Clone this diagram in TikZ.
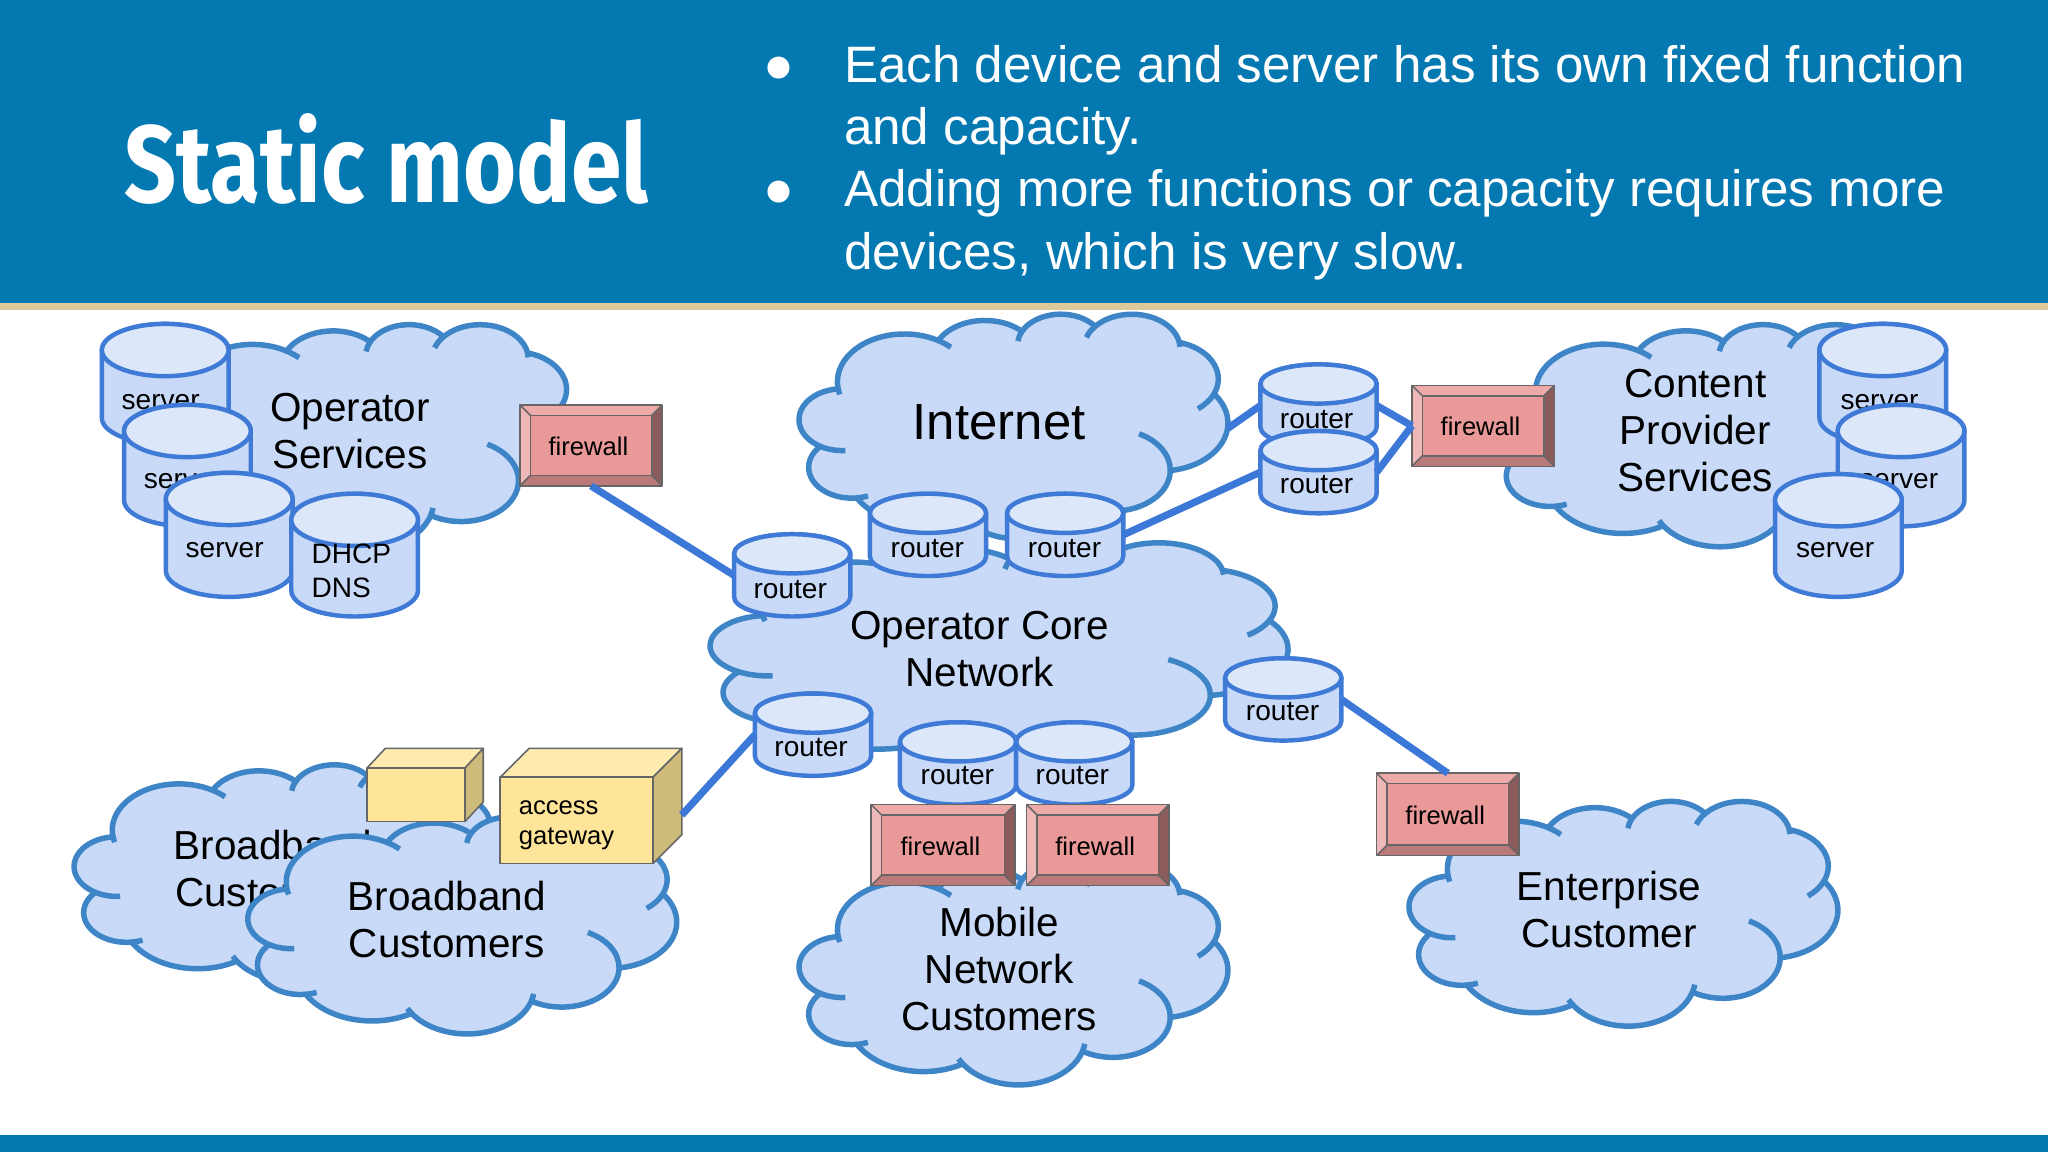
\documentclass[tikz,border=0pt]{standalone}
\usepackage{fontspec}
\setmainfont{Liberation Sans}
\newfontfamily\titlefont[FakeStretch=0.83]{Fira Sans Bold}
\definecolor{hdr}{HTML}{0478B0}
\definecolor{tanbar}{HTML}{DEC99A}
\definecolor{cloudfill}{HTML}{C9DAF8}
\definecolor{cloudline}{HTML}{3D85C6}
\definecolor{cylline}{HTML}{3F7BD6}
\definecolor{cyltop}{HTML}{DCE7FA}
\definecolor{conn}{HTML}{3C78D8}
\definecolor{fwmain}{HTML}{EA9999}
\definecolor{fwlight}{HTML}{EFB8B8}
\definecolor{fwtop}{HTML}{EEA9A9}
\definecolor{fwdark}{HTML}{8C5B5B}
\definecolor{fwbot}{HTML}{BB7A7A}
\definecolor{fwedge}{HTML}{666666}
\definecolor{boxfront}{HTML}{FFE599}
\definecolor{boxtop}{HTML}{FFEBB0}
\definecolor{boxside}{HTML}{CDBB7B}
\newcommand\mkarc[5]{%
  \pgfmathsetmacro\arcts{-atan2(#2*sin(#4),#3*cos(#4))}%
  \pgfmathsetmacro\arcte{-atan2(#2*sin(#4+#5),#3*cos(#4+#5))}%
  \pgfmathsetmacro\arcde{mod(\arcte-\arcts+540,360)-180}%
  \edef\arctmp{\noexpand\tikzset{#1/.style={x radius=#2,y radius=#3,start angle=\arcts,delta angle=\arcde}}}%
  \arctmp}
\mkarc{ca}{6.753}{9.190}{-190.4875}{123.7805}
\mkarc{cb}{5.333}{7.267}{-144.1024}{89.9452}
\mkarc{cc}{4.365}{5.945}{-145.8079}{99.7230}
\mkarc{cd}{4.857}{6.595}{-130.9861}{117.2417}
\mkarc{ce}{5.333}{7.273}{-78.7089}{109.0269}
\mkarc{cf}{6.775}{9.220}{-46.2673}{130.2690}
\mkarc{cg}{5.785}{7.867}{0.6250}{114.0333}
\mkarc{ch}{6.752}{9.215}{22.4516}{115.1726}
\mkarc{ci}{7.720}{10.543}{66.2426}{75.7110}
\mkarc{cj}{4.360}{5.918}{-274.9421}{146.7356}
\mkarc{ck}{4.345}{5.945}{-246.8285}{152.5189}
\mkarc{ta}{4.345}{5.945}{113.17}{-26.43}
\mkarc{tb}{4.360}{5.918}{85.06}{-11.45}
\mkarc{tc}{6.752}{9.215}{137.62}{8}
\mkarc{td}{6.752}{9.215}{22.45}{-12}
\mkarc{te}{5.785}{7.867}{0.625}{-70}
\mkarc{tf}{5.333}{7.273}{30.32}{30}
\mkarc{tg}{4.857}{6.595}{-13.74}{10}
\mkarc{th}{4.857}{6.595}{-130.99}{-24}
\mkarc{ti}{4.365}{5.945}{-145.81}{-24}
\mkarc{tj}{6.753}{9.190}{-66.71}{12}
\mkarc{tk}{6.753}{9.190}{-190.49}{-10}
\tikzset{
  cloudbody/.style={fill=cloudfill,draw=cloudline,line width=4.2pt,line join=round},
  cloudtail/.style={draw=cloudline,line width=4.2pt},
  cloudtext/.style={font=\fontsize{31}{36}\selectfont,align=center,inner sep=0pt,text=black},
  cylbody/.style={fill=cloudfill,draw=cylline,line width=3.4pt,line join=round},
  cylcap/.style={fill=cyltop,draw=cylline,line width=3.4pt},
  cyltext/.style={font=\fontsize{21.5}{26}\selectfont,align=left,inner sep=0pt,text=black},
  fwedgeline/.style={draw=fwedge,line width=1.2pt,line join=round},
  fwtext/.style={font=\fontsize{19.6}{24}\selectfont,inner sep=0pt,text=black},
  boxedge/.style={draw=fwedge,line width=1.2pt,line join=round},
  wire/.style={draw=conn,line width=5.5pt},
  headtext/.style={font=\fontsize{39.2}{47.4}\selectfont,text=white,inner sep=0pt,anchor=base west},
}
% cloud: x1 y1 x2 y2 (top-left / bottom-right, y downwards)
\newcommand\cloudat[4]{%
  \pgfmathsetmacro\cw{(#3-#1)/43.2}%
  \pgfmathsetmacro\ch{(#4-#2)/43.2}%
  \begin{scope}[shift={(#1,-#4)},x=\cw pt,y=\ch pt]
    \path[cloudbody] (3.9,28.83) coordinate (j0) arc[ca] coordinate (j1) arc[cb] coordinate (j2)
      arc[cc] coordinate (j3) arc[cd] coordinate (j4) arc[ce] coordinate (j5)
      arc[cf] coordinate (j6) arc[cg] coordinate (j7) arc[ch] coordinate (j8)
      arc[ci] coordinate (j9) arc[cj] coordinate (j10) arc[ck] -- cycle;
    \path[cloudtail] (j10) arc[ta];
    \path[cloudtail] (j9) arc[tb];
    \path[cloudtail] (j8) arc[tc];
    \path[cloudtail] (j7) arc[td];
    \path[cloudtail] (j6) arc[te];
    \path[cloudtail] (j5) arc[tf];
    \path[cloudtail] (j4) arc[tg];
    \path[cloudtail] (j3) arc[th];
    \path[cloudtail] (j2) arc[ti];
    \path[cloudtail] (j1) arc[tj];
    \path[cloudtail] (j0) arc[tk];
  \end{scope}}
% cylinder: name x1 y1 x2 y2 ry label-x label-y label
\newcommand\cyl[9]{%
  \pgfmathsetmacro\cyrx{(#4-#2)/2}%
  \pgfmathsetmacro\cycx{(#4+#2)/2}%
  \pgfmathsetmacro\cyt{-(#3+#6)}%
  \pgfmathsetmacro\cyb{-(#5-#6)}%
  \path[cylbody] (#2,\cyt) -- (#2,\cyb) arc[start angle=180,end angle=360,x radius=\cyrx,y radius=#6]
     -- (#4,\cyt) arc[start angle=0,end angle=180,x radius=\cyrx,y radius=#6] -- cycle;
  \path[cylcap] (\cycx,\cyt) ellipse[x radius=\cyrx,y radius=#6];
  \coordinate (#1) at (\cycx,{-(#3+#5)/2});
  \coordinate (#1-w) at (#2,{-(#3+#5)/2});
  \coordinate (#1-e) at (#4,{-(#3+#5)/2});
  \node[cyltext] (#1-label) at (#7,-#8) {#9};}
% firewall: name x1 y1 x2 y2
\newcommand\firewall[5]{%
  \pgfmathsetmacro\fxa{#2+8}\pgfmathsetmacro\fxb{#4-8}%
  \pgfmathsetmacro\fya{-(#3+8)}\pgfmathsetmacro\fyb{-(#5-8)}%
  \fill[fwtop] (#2,-#3) -- (#4,-#3) -- (\fxb,\fya) -- (\fxa,\fya) -- cycle;
  \fill[fwlight] (#2,-#3) -- (#2,-#5) -- (\fxa,\fyb) -- (\fxa,\fya) -- cycle;
  \fill[fwdark] (#4,-#3) -- (#4,-#5) -- (\fxb,\fyb) -- (\fxb,\fya) -- cycle;
  \fill[fwbot] (#2,-#5) -- (#4,-#5) -- (\fxb,\fyb) -- (\fxa,\fyb) -- cycle;
  \path[fwedgeline] (#2,-#3) rectangle (#4,-#5);
  \path[fwedgeline,fill=fwmain] (\fxa,\fya) rectangle (\fxb,\fyb);
  \path[fwedgeline] (#2,-#3) -- (\fxa,\fya) (#4,-#3) -- (\fxb,\fya) (#2,-#5) -- (\fxa,\fyb) (#4,-#5) -- (\fxb,\fyb);
  \node[fwtext] (#1) at ({(#2+#4)/2-2},{-(#3+#5)/2-0.7}) {firewall};
  \coordinate (#1-n) at ({(#2+#4)/2},-#3);
  \coordinate (#1-s) at ({(#2+#4)/2},-#5);
  \coordinate (#1-w) at (#2,{-(#3+#5)/2});}
% cube: name x1 y1 x2 y2 dx dy
\newcommand\cube[7]{%
  \pgfmathsetmacro\cax{#2+#6}\pgfmathsetmacro\cbx{#4+#6}%
  \pgfmathsetmacro\cay{-(#3-#7)}\pgfmathsetmacro\cby{-(#5-#7)}%
  \path[boxedge,fill=boxtop] (#2,-#3) -- (\cax,\cay) -- (\cbx,\cay) -- (#4,-#3) -- cycle;
  \path[boxedge,fill=boxside] (#4,-#3) -- (\cbx,\cay) -- (\cbx,\cby) -- (#4,-#5) -- cycle;
  \path[boxedge,fill=boxfront] (#2,-#3) rectangle (#4,-#5);
  \coordinate (#1-e) at (\cbx,{-(#3+#5)/2+#7/2-7});}
\begin{document}
\begin{tikzpicture}[x=1pt,y=1pt]
\useasboundingbox (0,0) rectangle (1568,-882);
\fill[white] (0,0) rectangle (1568,-882);
\fill[hdr] (0,0) rectangle (1568,-232);
\fill[tanbar] (0,-232) rectangle (1568,-237);
\fill[hdr] (0,-869) rectangle (1568,-882);
\node[font=\titlefont\fontsize{84}{90}\selectfont,text=white,inner sep=0pt,anchor=base west] (title) at (95,-155) {Static model};
\node[headtext] (bulleta) at (584,-63) {●};
\node[headtext] (linea) at (646,-63) {Each device and server has its own fixed function};
\node[headtext] (lineb) at (646,-111) {and capacity.};
\node[headtext] (bulletb) at (584,-158) {●};
\node[headtext] (linec) at (646,-158) {Adding more functions or capacity requires more};
\node[headtext] (lined) at (646,-206) {devices, which is very slow.};
\coordinate (internet-e) at (940,-328);
% clouds
\cloudat{113}{248}{441}{420}
\node[cloudtext] (opserv) at (268,-330) {Operator\\Services};
\cloudat{612}{240}{940}{412}
\node[cloudtext,font=\fontsize{39}{44}\selectfont] (internet) at (765,-323) {Internet};
\cloudat{1146}{248}{1480}{418}
\node[cloudtext] (content) at (1298,-330) {Content\\Provider\\Services};
\cloudat{544}{415}{986}{583}
\node[cloudtext] (core) at (750,-497) {Operator Core\\Network};
\cloudat{1079}{613}{1407}{785}
\node[cloudtext] (enterprise) at (1232,-696) {Enterprise\\Customer};
\cloudat{612}{660}{940}{830}
\node[cloudtext] (mobile) at (765,-742) {Mobile\\Network\\Customers};
\cloudat{57}{585}{383}{751}
\node[cloudtext] (bbback) at (209,-665) {Broadband\\Customers};
\cloudat{190}{625}{518}{791}
\node[cloudtext] (bbfront) at (342,-704) {Broadband\\Customers};
% cylinders
\cyl{srvA}{78}{248}{175}{340}{20}{123}{307.5}{server}
\cyl{srvB}{95}{310}{192}{403}{20}{140}{368.5}{server}
\cyl{srvC}{127}{362}{224}{457}{20}{172}{421.5}{server}
\cyl{dhcp}{223}{378}{320}{472}{20}{269}{437}{DHCP\\DNS}
\cyl{srvD}{1393}{248}{1490}{340}{20}{1439}{307.5}{server}
\cyl{srvE}{1407}{310}{1504}{403}{20}{1454}{368.5}{server}
\cyl{srvF}{1359}{363}{1456}{457}{20}{1405}{421.5}{server}
\cyl{rtA}{562}{409}{651}{472}{15}{605}{451}{router}
\cyl{rtB}{666}{378}{755}{441}{15}{710}{420}{router}
\cyl{rtC}{771}{378}{860}{441}{15}{815}{420}{router}
\cyl{rtD}{965}{279}{1054}{342}{15}{1008}{321}{router}
\cyl{rtE}{965}{330}{1054}{393}{15}{1008}{371}{router}
\cyl{rtF}{938}{504}{1027}{567}{15}{982}{545}{router}
\cyl{rtG}{578}{531}{667}{594}{15}{621}{572}{router}
\cyl{rtH}{689}{553}{778}{616}{15}{733}{594}{router}
\cyl{rtI}{778}{553}{867}{616}{15}{821}{594}{router}
% firewalls and boxes
\firewall{fwA}{398}{310}{507}{372}
\firewall{fwB}{1081}{295}{1190}{357}
\firewall{fwC}{667}{616}{777}{678}
\firewall{fwD}{786}{616}{895}{678}
\firewall{fwE}{1054}{592}{1163}{655}
\cube{boxS}{281}{588}{356}{629}{14}{15}
\cube{gate}{383}{595}{500}{661}{22}{22}
\node[fwtext,align=left,anchor=west,font=\fontsize{19.6}{23}\selectfont] (gatelabel) at (397,-632) {access\\gateway};
% connectors
\path[wire] (fwA-s) -- (rtA-w);
\path[wire] (rtC-e) -- (rtE-w);
\path[wire] (internet-e) -- (rtD-w);
\path[wire] (rtD-e) -- (fwB-w);
\path[wire] (rtE-e) -- (fwB-w);
\path[wire] (rtF-e) -- (fwE-n);
\path[wire] (rtG-w) -- (gate-e);
\end{tikzpicture}
\end{document}
